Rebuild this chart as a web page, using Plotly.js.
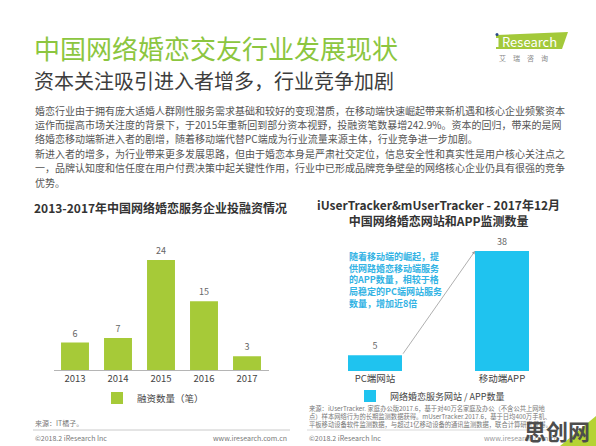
<!DOCTYPE html>
<html>
<head>
<meta charset="utf-8">
<script src="https://cdn.plot.ly/plotly-3.0.1.min.js"></script>
<style>
  html, body { margin: 0; padding: 0; background: #ffffff; }
  #chart { width: 596px; height: 446px; }
</style>
</head>
<body>
<div id="chart"></div>
<script>
// ---------- data ----------
const years = ['2013', '2014', '2015', '2016', '2017'];
const financingCounts = [6, 7, 24, 15, 3];
const financingName = '融资数量（笔）';

const platforms = ['PC端网站', '移动端APP'];
const platformCounts = [5, 38];
const platformName = '网络婚恋服务网站 / APP数量';

const mainTitle = '中国网络婚恋交友行业发展现状';
const subTitle = '资本关注吸引进入者增多，行业竞争加剧';
const bodyLines = [
  '婚恋行业由于拥有庞大适婚人群刚性服务需求基础和较好的变现潜质，在移动端快速崛起带来新机遇和核心企业频繁资本',
  '运作而提高市场关注度的背景下，于2015年重新回到部分资本视野，投融资笔数暴增242.9%。资本的回归，带来的是网',
  '络婚恋移动端新进入者的剧增，随着移动端代替PC端成为行业流量来源主体，行业竞争进一步加剧。',
  '新进入者的增多，为行业带来更多发展思路，但由于婚恋本身是严肃社交定位，信息安全性和真实性是用户核心关注点之',
  '一，品牌认知度和信任度在用户付费决策中起关键性作用，行业中已形成品牌竞争壁垒的网络核心企业仍具有很强的竞争',
  '优势。'
];
const leftTitle = '2013-2017年中国网络婚恋服务企业投融资情况';
const rightTitle1 = 'iUserTracker&mUserTracker - 2017年12月';
const rightTitle2 = '中国网络婚恋网站和APP监测数量';
const calloutLines = ['随着移动端的崛起，提', '供网路婚恋移动端服务', '的APP数量，相较于格', '局稳定的PC端网站服务', '数量，增加近8倍'];
const leftSource = '来源：IT橘子。';
const rightSourceLines = [
  '来源：iUserTracker. 家庭办公版2017.6，基于对40万名家庭及办公（不含公共上网地',
  '点）样本网络行为的长期监测数据获得。mUserTracker.2017.6，基于日均400万手机、',
  '平板移动设备软件监测数据，与超过1亿移动设备的通讯监测数据，联合计算研究获得。'
];
const copyrightText = '©2018.2 iResearch Inc';
const siteText = 'www.iresearch.com.cn';
const watermark = '思创网';

// ---------- helpers ----------
const W = 596, H = 446;
const px = v => v / W;
const py = v => 1 - v / H;
const FONT = "'Noto Sans CJK SC', 'Noto Sans', sans-serif";

const green = '#8cc63f';
const barGreen = '#a6ca38';
const barBlue = '#1fc3ef';
const calloutBlue = '#33b3e4';

function ann(text, x, y, o) {
  o = o || {};
  return Object.assign({
    text: text, xref: 'paper', yref: 'paper', x: px(x), y: py(y),
    xanchor: o.xa || 'left', yanchor: 'middle', showarrow: false,
    align: o.align || 'left',
    font: { family: FONT, size: o.size || 10, color: o.color || '#555' }
  }, o.extra || {});
}

const annotations = [];
annotations.push(ann(mainTitle, 32, 48, { size: 26, color: green }));
annotations.push(ann(subTitle, 32, 81, { size: 20, color: '#3d3d3d' }));
bodyLines.forEach((t, i) => annotations.push(ann(t, 33, 110 + i * 14.4, { size: 10, color: '#555' })));

annotations.push(ann('<b>' + leftTitle + '</b>', 160, 207, { xa: 'center', size: 12, color: '#333' }));
annotations.push(ann('<b>' + rightTitle1 + '<br>' + rightTitle2 + '</b>', 438, 212, { xa: 'center', align: 'center', size: 12, color: '#333' }));

annotations.push(ann('<b>' + calloutLines.join('<br>') + '</b>', 347, 280, { size: 9, color: calloutBlue }));

// arrow between bar tops (data coordinates)
annotations.push({
  xref: 'x2', yref: 'y2', axref: 'x2', ayref: 'y2',
  x: 1 - 0.2125, y: platformCounts[1], ax: 0.2125, ay: platformCounts[0],
  text: '', showarrow: true, arrowhead: 2, arrowsize: 0.8, arrowwidth: 0.8, arrowcolor: '#9a9a9a',
  standoff: 0, startstandoff: 0
});

annotations.push(ann(leftSource, 33, 423, { size: 7, color: '#777' }));
annotations.push(ann(copyrightText, 33, 438, { size: 7, color: '#777' }));
annotations.push(ann(siteText, 289, 438, { xa: 'right', size: 7, color: '#777' }));
annotations.push(ann(rightSourceLines.join('<br>'), 307, 416, { size: 6.3, color: '#777' }));
annotations.push(ann(copyrightText, 307, 438, { size: 7, color: '#777' }));
annotations.push(ann(siteText, 560, 438, { xa: 'right', size: 7, color: '#999' }));

// logo text
annotations.push(ann('Research', 500, 41, { size: 13, color: '#ffffff' }));
annotations.push(ann('艾　瑞　咨　询', 497, 58, { size: 7, color: '#888' }));

// watermark
annotations.push(ann('<b>' + watermark + '</b>', 592, 430, { xa: 'right', size: 22, color: '#4d4d4d' }));

const shapes = [
  // logo plate
  { type: 'path', xref: 'paper', yref: 'paper', layer: 'below',
    path: `M ${px(496)},${py(35)} L ${px(568)},${py(32)} L ${px(562)},${py(49)} L ${px(496)},${py(49)} Z`,
    fillcolor: '#a3c93a', line: { width: 0 } },
  { type: 'circle', xref: 'paper', yref: 'paper',
    x0: px(495.5), x1: px(498.5), y0: py(36), y1: py(33), fillcolor: '#2a4a8a', line: { width: 0 } },
  { type: 'rect', xref: 'paper', yref: 'paper',
    x0: px(496), x1: px(498.5), y0: py(47), y1: py(38), fillcolor: '#ffffff', line: { width: 0 } },
  // footer separators
  { type: 'line', xref: 'paper', yref: 'paper', x0: px(33), x1: px(290), y0: py(430), y1: py(430),
    line: { color: '#bdbdbd', width: 0.8 } },
  { type: 'line', xref: 'paper', yref: 'paper', x0: px(307), x1: px(560), y0: py(430), y1: py(430),
    line: { color: '#cfcfcf', width: 0.8 } },
  // watermark corner
  { type: 'path', xref: 'paper', yref: 'paper',
    path: `M ${px(560)},${py(446)} L ${px(596)},${py(416)} L ${px(596)},${py(446)} Z`,
    fillcolor: '#b5d334', line: { width: 0 } }
];

const traces = [
  {
    type: 'bar', x: years, y: financingCounts, name: financingName,
    xaxis: 'x', yaxis: 'y', width: 0.65,
    marker: { color: barGreen },
    text: financingCounts.map(String), textposition: 'outside', cliponaxis: false,
    textfont: { family: FONT, size: 9, color: '#666' },
    hoverinfo: 'x+y', legend: 'legend'
  },
  {
    type: 'bar', x: platforms, y: platformCounts, name: platformName,
    xaxis: 'x2', yaxis: 'y2', width: 0.425,
    marker: { color: barBlue },
    text: platformCounts.map(String), textposition: 'outside', cliponaxis: false,
    textfont: { family: FONT, size: 9, color: '#666' },
    hoverinfo: 'x+y', legend: 'legend2'
  }
];

const leftPxPerUnit = 4.58;
const rightPxPerUnit = 3.158;

const layout = {
  width: W, height: H,
  margin: { l: 0, r: 0, t: 0, b: 0, pad: 0 },
  paper_bgcolor: '#ffffff', plot_bgcolor: 'rgba(0,0,0,0)',
  font: { family: FONT, color: '#444' },
  showlegend: true,
  xaxis: {
    domain: [px(53.5), px(268.5)], anchor: 'y', type: 'category', range: [-0.5, 4.5],
    showline: true, linecolor: '#b5b5b5', linewidth: 1, ticks: '', showgrid: false, zeroline: false,
    tickfont: { family: FONT, size: 9.5, color: '#444' }, fixedrange: true
  },
  yaxis: {
    domain: [py(370), py(370 - 25 * leftPxPerUnit)], anchor: 'x', range: [0, 25],
    visible: false, fixedrange: true
  },
  xaxis2: {
    domain: [px(311.5), px(565.5)], anchor: 'y2', type: 'category', range: [-0.5, 1.5],
    showline: false, ticks: '', showgrid: false, zeroline: false,
    tickfont: { family: FONT, size: 9.5, color: '#444' }, fixedrange: true
  },
  yaxis2: {
    domain: [py(371), py(371 - 40 * rightPxPerUnit)], anchor: 'x2', range: [0, 40],
    visible: false, fixedrange: true
  },
  legend: {
    x: px(97), y: py(398), xanchor: 'left', yanchor: 'middle', orientation: 'h',
    bgcolor: 'rgba(0,0,0,0)', font: { family: FONT, size: 9.5, color: '#444' }, itemwidth: 30
  },
  legend2: {
    x: px(350), y: py(396), xanchor: 'left', yanchor: 'middle', orientation: 'h',
    bgcolor: 'rgba(0,0,0,0)', font: { family: FONT, size: 9, color: '#444' }, itemwidth: 30
  },
  annotations: annotations,
  shapes: shapes
};

Plotly.newPlot('chart', traces, layout, { displayModeBar: false, staticPlot: true });
</script>
</body>
</html>
